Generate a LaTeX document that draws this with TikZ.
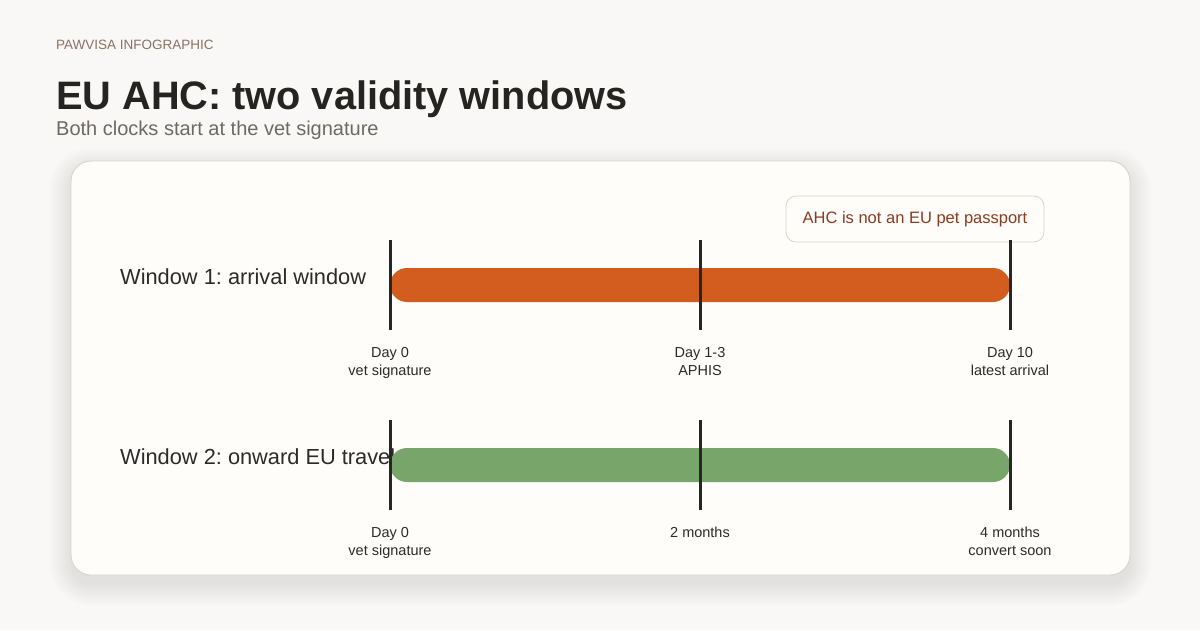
\documentclass[tikz,border=0pt]{standalone}
\usepackage{fontspec}
\setmainfont{Liberation Sans}
\frenchspacing
\definecolor{bgc}{HTML}{F9F8F6}
\definecolor{cardfill}{HTML}{FEFDF9}
\definecolor{cardline}{HTML}{D8D3CB}
\definecolor{barorange}{HTML}{D35C1F}
\definecolor{bargreen}{HTML}{78A56A}
\definecolor{tickc}{HTML}{262626}
\definecolor{labc}{HTML}{2B2B2B}
\definecolor{titlec}{HTML}{262420}
\definecolor{subc}{HTML}{6E6A63}
\definecolor{kickc}{HTML}{8C7264}
\definecolor{notec}{HTML}{8A3A20}
\definecolor{noteline}{HTML}{DDD5C8}
\tikzset{
  kicker/.style={anchor=base west, inner sep=0, text=kickc, font=\fontsize{13.5}{16}\selectfont},
  titletext/.style={anchor=base west, inner sep=0, text=titlec, font=\fontsize{39.7}{46}\selectfont\bfseries},
  subtext/.style={anchor=base west, inner sep=0, text=subc, font=\fontsize{20}{24}\selectfont},
  winlabel/.style={anchor=west, inner sep=0, text=labc, font=\fontsize{21.8}{26}\selectfont},
  bar/.style={rectangle, rounded corners=17pt, minimum width=620pt, minimum height=34pt, inner sep=0},
  tick/.style={draw=tickc, line width=3pt},
  ticklab/.style={anchor=base, inner sep=0, text=labc, font=\fontsize{14.5}{17}\selectfont},
  note/.style={draw=noteline, fill=cardfill, rounded corners=10pt, line width=0.8pt, minimum width=258pt, minimum height=46pt, inner sep=0, text=notec, font=\fontsize{16.5}{20}\selectfont}
}
\begin{document}
\begin{tikzpicture}[x=1pt,y=-1pt]
\useasboundingbox (0,0) rectangle (1200,630);
\fill[bgc] (0,0) rectangle (1200,630);
% card shadow
\foreach \i in {0,...,22}{
  \fill[black, fill opacity=0.0025, rounded corners=20pt+\i pt] (71-\i,169-\i) rectangle (1130+\i,584+\i);
}
\draw[cardline, fill=cardfill, line width=0.9pt, rounded corners=20pt] (71,161) rectangle (1130,575);
% header
\node[kicker] (kick) at (56,49) {PAWVISA INFOGRAPHIC};
\node[titletext] (title) at (56,109) {EU AHC: two validity windows};
\node[subtext] (sub) at (56,135) {Both clocks start at the vet signature};
% callout
\node[note] (callout) at (915,219) {AHC is not an EU pet passport};
% window 1
\node[winlabel] (w1) at (120,277) {Window 1: arrival window};
\node[bar, fill=barorange] (bar1) at (700,285) {};
\coordinate (t1a) at (390,240); \coordinate (b1a) at (390,330);
\coordinate (t1b) at (700,240); \coordinate (b1b) at (700,330);
\coordinate (t1c) at (1010,240); \coordinate (b1c) at (1010,330);
\draw[tick] (t1a) -- (b1a);
\draw[tick] (t1b) -- (b1b);
\draw[tick] (t1c) -- (b1c);
\node[ticklab] (l1a) at (390,357) {Day 0};
\node[ticklab] (l1a2) at (390,375) {vet signature};
\node[ticklab] (l1b) at (700,357) {Day 1-3};
\node[ticklab] (l1b2) at (700,375) {APHIS};
\node[ticklab] (l1c) at (1010,357) {Day 10};
\node[ticklab] (l1c2) at (1010,375) {latest arrival};
% window 2
\node[winlabel] (w2) at (120,457) {Window 2: onward EU travel};
\node[bar, fill=bargreen] (bar2) at (700,465) {};
\coordinate (t2a) at (390,420); \coordinate (b2a) at (390,510);
\coordinate (t2b) at (700,420); \coordinate (b2b) at (700,510);
\coordinate (t2c) at (1010,420); \coordinate (b2c) at (1010,510);
\draw[tick] (t2a) -- (b2a);
\draw[tick] (t2b) -- (b2b);
\draw[tick] (t2c) -- (b2c);
\node[ticklab] (l2a) at (390,537) {Day 0};
\node[ticklab] (l2a2) at (390,555) {vet signature};
\node[ticklab] (l2b) at (700,537) {2 months};
\node[ticklab] (l2c) at (1010,537) {4 months};
\node[ticklab] (l2c2) at (1010,555) {convert soon};
\end{tikzpicture}
\end{document}
